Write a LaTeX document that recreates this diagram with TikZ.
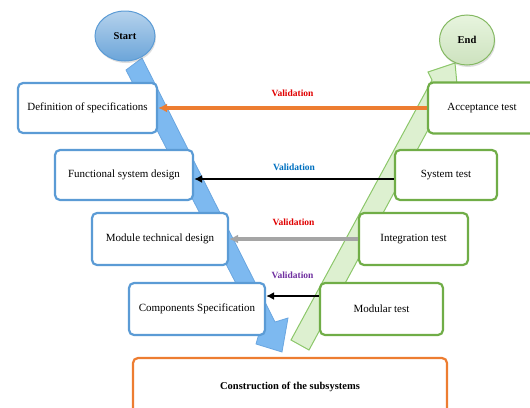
\documentclass[tikz,border=0pt]{standalone}
\usepackage{fontspec}
\setmainfont{Liberation Serif}
\usetikzlibrary{arrows.meta,shapes.geometric,shadows}

\definecolor{boxblue}{HTML}{5B9BD5}
\definecolor{boxgreen}{HTML}{70AD47}
\definecolor{boxorange}{HTML}{ED7D31}
\definecolor{arrgray}{HTML}{A5A5A5}
\definecolor{bandblue}{HTML}{7DB9F0}
\definecolor{bandblueline}{HTML}{6AA6E0}
\definecolor{bandgreen}{HTML}{DDF0D0}
\definecolor{bandgreenline}{HTML}{8CC76A}
\definecolor{valred}{HTML}{E00000}
\definecolor{valblue}{HTML}{0070C0}
\definecolor{valpurple}{HTML}{7030A0}

\begin{document}
\begin{tikzpicture}[x=1pt,y=-1pt]
\tikzstyle{leftbox}=[draw=boxblue,line width=2.2pt,rounded corners=5pt,fill=white,align=center,font=\fontsize{11}{13}\selectfont]
\tikzstyle{rightbox}=[leftbox,draw=boxgreen]
\tikzstyle{valid}=[font=\bfseries\fontsize{9.5}{11}\selectfont]
\tikzstyle{bubble}=[ellipse,line width=1pt,font=\bfseries\fontsize{10.5}{12}\selectfont,drop shadow={opacity=0.25,shadow xshift=1pt,shadow yshift=-2pt}]

\useasboundingbox (0,0) rectangle (530,407);

% the two big V arrows
\filldraw[fill=bandblue,draw=bandblueline,line width=0.8pt] (126,70) -- (142,58) -- (275,322) -- (288,318) -- (282,352) -- (256,344) -- (260,330) -- cycle;
\filldraw[fill=bandgreen,draw=bandgreenline,line width=1pt] (291,340) -- (309,350) -- (449,91) -- (458,95) -- (455,63) -- (428,72) -- (432,80) -- cycle;

\node[bubble,draw=boxblue,top color=boxblue!45!white,bottom color=boxblue!90!white,minimum width=60pt,minimum height=50pt] (start) at (125,36) {Start};
\node[bubble,draw=boxgreen!85!white,top color=bandgreen!70!white,bottom color=boxgreen!35!white,minimum width=55pt,minimum height=50pt] (end) at (467,40) {End};

\node[leftbox,minimum width=139pt,minimum height=50pt] (def) at (87.5,108) {Definition of specifications};
\node[leftbox,minimum width=138pt,minimum height=50pt] (fun) at (124,175) {Functional system design};
\node[leftbox,minimum width=136pt,minimum height=52pt] (mod) at (160,239) {Module technical design};
\node[leftbox,minimum width=136pt,minimum height=52pt] (com) at (197,309) {Components Specification};

\node[rightbox,minimum width=108pt,minimum height=51pt] (acc) at (482,108) {Acceptance test};
\node[rightbox,minimum width=102pt,minimum height=50pt] (sys) at (446,175) {System test};
\node[rightbox,minimum width=109pt,minimum height=52pt] (int) at (413.5,239) {Integration test};
\node[rightbox,minimum width=123pt,minimum height=52pt] (mdl) at (381.5,309) {Modular test};

\node[leftbox,draw=boxorange,minimum width=314pt,minimum height=57pt,font=\bfseries\fontsize{10.5}{12}\selectfont] (con) at (290,386.5) {Construction of the subsystems};

\draw [-{Latex[length=9pt,width=9pt]},line width=3.3pt,draw=boxorange] (acc) -- node[valid,above=6pt,text=valred] {Validation} (def);
\draw [-{Latex[length=8pt,width=8pt]},line width=2.5pt,draw=black] ([yshift=-4pt]sys.west) -- node[valid,above=4pt,text=valblue] {Validation} ([yshift=-4pt]fun.east);
\draw [-{Latex[length=9pt,width=9pt]},line width=3.5pt,draw=arrgray] (int) -- node[valid,above=8pt,text=valred] {Validation} (mod);
\draw [-{Latex[length=8pt,width=8pt]},line width=2.5pt,draw=black] ([yshift=13pt]mdl.west) -- node[valid,above=13pt,text=valpurple] {Validation} ([yshift=13pt]com.east);

\end{tikzpicture}
\end{document}
